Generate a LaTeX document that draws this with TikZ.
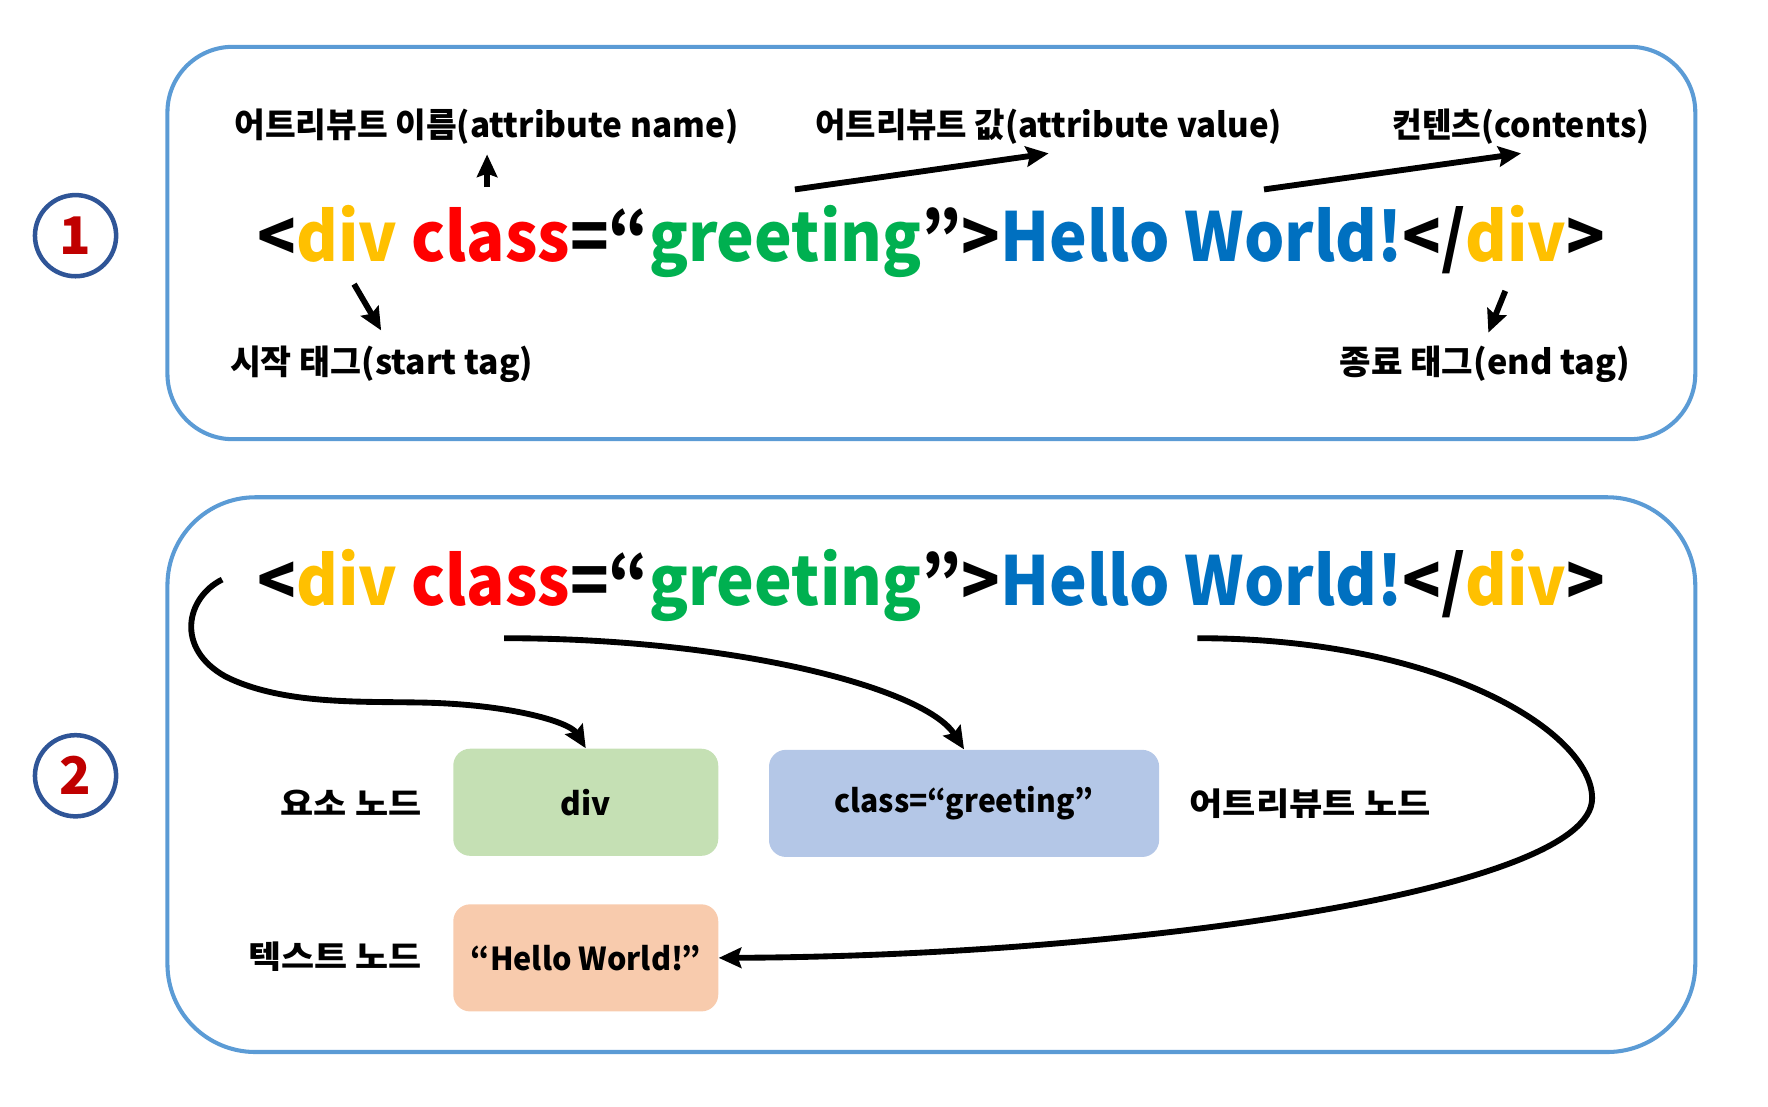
\documentclass[tikz,border=0pt]{standalone}
\usepackage{fontspec}
\setmainfont{Noto Sans CJK KR}
\usetikzlibrary{arrows.meta}
\definecolor{panelc}{RGB}{91,155,213}
\definecolor{circc}{RGB}{47,85,151}
\definecolor{numred}{RGB}{192,0,0}
\definecolor{divy}{RGB}{255,192,0}
\definecolor{clsr}{RGB}{255,0,0}
\definecolor{grn}{RGB}{0,176,80}
\definecolor{hwb}{RGB}{0,112,192}
\definecolor{boxg}{RGB}{197,224,180}
\definecolor{boxb}{RGB}{180,199,231}
\definecolor{boxo}{RGB}{248,203,173}
\newcommand{\fitw}[2]{\resizebox{#1}{\height}{#2}}
\newcommand{\htmlline}{<\textcolor{divy}{div} \textcolor{clsr}{class}=“\textcolor{grn}{greeting}”>\textcolor{hwb}{Hello World!}</\textcolor{divy}{div}>}
\begin{document}
\begin{tikzpicture}[x=0.5pt,y=-0.5pt,
  every node/.style={inner sep=0pt},
  panel/.style={draw=panelc, line width=1.8pt},
  numcirc/.style={circle, draw=circc, line width=2pt, minimum size=36pt, text=numred, font=\bfseries\fontsize{23}{23}\selectfont},
  codeline/.style={anchor=base west, font=\bfseries\fontsize{30}{36}\selectfont},
  lbl/.style={font=\bfseries\fontsize{15}{18}\selectfont},
  lbltwo/.style={font=\bfseries\fontsize{14}{17}\selectfont},
  nodebox/.style={rounded corners=7.5pt, minimum width=117.5pt, minimum height=47.5pt, font=\bfseries\fontsize{14}{17}\selectfont},
  ptr/.style={line width=2.6pt, -{Stealth[length=10pt,width=9pt,inset=1.5pt]}}
]
\useasboundingbox (0,0) rectangle (1568,981);
% panels
\draw[panel, rounded corners=29pt] (148.5,41.5) rectangle (1503.5,389.5);
\draw[panel, rounded corners=39pt] (148.5,441) rectangle (1503.5,933);
% number circles
\node[numcirc] (n1) at (67,209) {1};
\node[numcirc] (n2) at (67,688) {2};
% panel 1
\node[codeline] (code1) at (228,232) {\fitw{597.5pt}{\htmlline}};
\node[lbl] (an) at (431.5,112) {\fitw{223.5pt}{어트리뷰트 이름(attribute name)}};
\node[lbl] (av) at (930,112) {\fitw{207pt}{어트리뷰트 값(attribute value)}};
\node[lbl] (ct) at (1349,112) {\fitw{114pt}{컨텐츠(contents)}};
\node[lbl] (st) at (338.5,323) {\fitw{134.5pt}{시작 태그(start tag)}};
\node[lbl] (et) at (1317,323) {\fitw{129pt}{종료 태그(end tag)}};
\coordinate (a1s) at (432,166); \coordinate (a1e) at (432,137);
\coordinate (a2s) at (705,168); \coordinate (a2e) at (930,136);
\coordinate (a3s) at (1121,168); \coordinate (a3e) at (1349,136);
\coordinate (a4s) at (314,252); \coordinate (a4e) at (338,293);
\coordinate (a5s) at (1335,258); \coordinate (a5e) at (1320,295);
\draw[ptr] (a1s) -- (a1e);
\draw[ptr] (a2s) -- (a2e);
\draw[ptr] (a3s) -- (a3e);
\draw[ptr] (a4s) -- (a4e);
\draw[ptr] (a5s) -- (a5e);
% panel 2
\node[codeline] (code2) at (228,537) {\fitw{597.5pt}{\htmlline}};
\node[nodebox, fill=boxg] (divb) at (519.5,711.5) {div};
\node[nodebox, fill=boxb, minimum width=173pt] (clsb) at (855,712.5) {\fitw{115pt}{class=“greeting”}};
\node[nodebox, fill=boxo] (hello) at (519.5,849.5) {\fitw{102pt}{“Hello World!”}};
\node[lbltwo] (en) at (311.5,712) {\fitw{62.5pt}{요소 노드}};
\node[lbltwo] (tn) at (297,848) {\fitw{77pt}{텍스트 노드}};
\node[lbltwo] (atn) at (1162,713) {\fitw{107pt}{어트리뷰트 노드}};
\coordinate (c1s) at (197,514);
\coordinate (c2s) at (447,566);
\coordinate (c3s) at (1062,566);
\draw[ptr] (c1s) .. controls (165,530) and (155,575) .. (200,600)
  .. controls (250,625) and (320,622) .. (370,623)
  .. controls (450,624) and (505,640) .. (divb.north);
\draw[ptr] (c2s) .. controls (650,566) and (820,610) .. (clsb.north);
\draw[ptr] (c3s) .. controls (1280,566) and (1412,650) .. (1412,708)
  .. controls (1412,790) and (1000,848) .. (hello.east);
\end{tikzpicture}
\end{document}
